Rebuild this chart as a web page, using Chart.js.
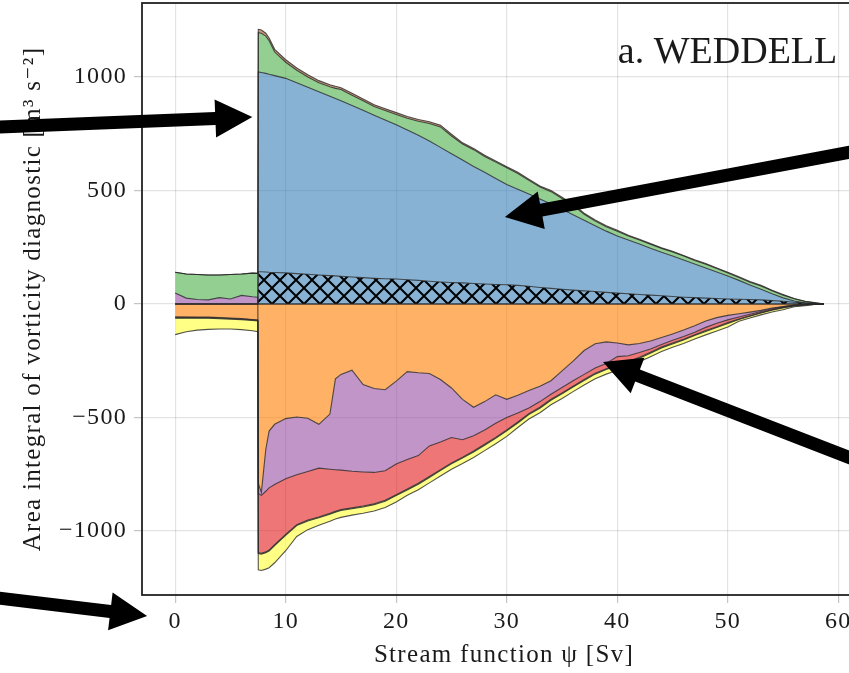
<!DOCTYPE html>
<html lang="en">
<head>
<meta charset="UTF-8" />
<title>Weddell vorticity budget</title>
<script src="https://cdn.jsdelivr.net/npm/chart.js@4.4.0/dist/chart.umd.min.js"></script>
<style>
  html, body { margin: 0; padding: 0; background: #fff; overflow: hidden; }
  #wrap { width: 866px; height: 673px; }
</style>
</head>
<body>
<div id="wrap"><canvas id="budget" width="866" height="673"></canvas></div>
<script>
// stream function [Sv]
const psi = [0,1,2,3,4,5,6,7,7.48,7.52,7.8,8.2,8.5,9,10,11,12,13,14,14.5,15,16,17,18,19,20,21,22,23,24,25,26,27,28,29,30,
  31,32,33,34,35,36,37,38,39,40,41,42,43,44,45,46,47,48,49,50,51,52,53,54,55,56,57,58,58.7];

// stacked terms [m3 s-2]
const hatched = [0,0,0,0,0,0,0,0,0,142,142,141,140,139,137,134,131,128,125,124,122,119,116,113,111,110,107,104,100,97,95,93,90,88,86,85,
  82,78,73,69,65,61,58,55,51,48,45,42,39,36,33,30,28,26,24,22,21,20,18,15,12,8,4,1,0];
const blue = [0,0,0,0,0,0,0,0,0,880,878,875,872,867,857,841,824,807,790,781,773,755,737,719,700,680,660,639,618,593,567,541,516,492,467,441,
  424,407,390,371,352,332,311,290,270,252,237,222,207,192,178,164,148,133,117,101,83,64,47,30,15,5,1,0,0];
const orange = [-56,-57,-58,-58,-60,-62,-64,-68,-70,-790,-830,-640,-560,-530,-505,-498,-503,-530,-485,-330,-310,-292,-355,-372,-378,-340,-298,-303,-306,-333,-370,-420,-455,-430,-400,-420,
  -402,-381,-362,-338,-295,-252,-205,-175,-167,-172,-180,-174,-163,-148,-132,-115,-96,-75,-60,-50,-43,-36,-28,-18,-11,-5,-2,-1,0];
const purple = [48,26,20,18,28,22,38,32,30,-45,-13,-185,-250,-265,-265,-254,-235,-193,-243,-400,-422,-445,-385,-370,-357,-365,-387,-365,-319,-275,-218,-178,-125,-125,-125,-80,
  -78,-77,-68,-60,-73,-86,-105,-107,-95,-60,-48,-40,-35,-30,-28,-28,-28,-28,-25,-20,-14,-9,-5,-3,-1,0,0,0,0];
const red = [-4,-2,-2,-2,-2,-2,-2,-2,-2,-260,-255,-267,-274,-265,-245,-220,-214,-215,-194,-183,-174,-161,-150,-138,-130,-135,-130,-122,-135,-122,-112,-77,-68,-63,-63,-55,
  -40,-25,-25,-22,-24,-24,-23,-23,-23,-36,-27,-21,-15,-12,-12,-12,-11,-14,-15,-12,-9,-7,-5,-4,-3,-2,-1,0,0];
const olive = [-3,-3,-3,-3,-3,-3,-3,-3,-3,-4,-4,-4,-4,-4,-4,-4,-4,-4,-4,-4,-4,-4,-4,-4,-4,-4,-4,-4,-4,-4,-4,-4,-4,-4,-4,-4,
  -4,-4,-4,-4,-4,-4,-4,-4,-4,-4,-4,-4,-4,-4,-4,-4,-4,-4,-4,-4,-2,-2,-2,-2,-2,-2,-2,0,0];
const yellow = [-72,-60,-52,-49,-45,-43,-44,-45,-47,-72,-72,-72,-74,-76,-68,-48,-38,-33,-31,-30,-30,-28,-28,-28,-28,-28,-24,-24,-24,-24,-24,-24,-24,-24,-24,-24,
  -20,-20,-20,-20,-20,-20,-20,-20,-20,-20,-15,-15,-15,-15,-15,-15,-15,-15,-15,-15,-8,-8,-8,-8,-8,-3,-3,0,0];
const green = [92,106,110,110,100,108,94,104,105,173,173,164,148,104,71,55,45,40,42,45,50,46,42,38,41,45,51,62,77,90,78,71,74,70,72,74,
  69,60,52,55,48,42,26,20,19,20,18,18,17,17,18,17,16,16,15,14,13,12,14,13,12,10,6,3,0];
const brown = [0,0,0,0,0,0,0,0,0,15,14,13,12,12,11,10,10,9,9,9,8,8,8,8,8,8,8,8,8,8,8,5,5,5,5,5,
  5,5,5,5,5,5,5,5,5,5,3,3,3,3,3,3,3,3,3,3,3,3,3,3,3,1,1,1,0];

const xTicks = [0, 10, 20, 30, 40, 50, 60];
const yTicks = [-1000, -500, 0, 500, 1000];

const serif = "'Liberation Serif', 'DejaVu Serif', serif";
const edge = 'rgba(40,40,40,0.8)';

// cross hatch for the first term
const pc = document.createElement('canvas');
pc.width = 16; pc.height = 16;
const pctx = pc.getContext('2d');
pctx.fillStyle = 'rgba(55,126,184,0.6)';
pctx.fillRect(0, 0, 16, 16);
pctx.strokeStyle = '#000';
pctx.lineWidth = 2;
pctx.beginPath();
pctx.moveTo(-2, -2); pctx.lineTo(18, 18);
pctx.moveTo(18, -2); pctx.lineTo(-2, 18);
pctx.stroke();
const hatch = document.createElement('canvas').getContext('2d').createPattern(pc, 'repeat');

const layers = [
  { vals: hatched, color: hatch, base: true },
  { vals: blue, color: 'rgba(55,126,184,0.6)' },
  { vals: orange, color: 'rgba(255,127,0,0.6)', base: true },
  { vals: purple, color: 'rgba(152,78,163,0.6)' },
  { vals: red, color: 'rgba(228,26,28,0.6)' },
  { vals: olive, color: 'rgba(120,150,60,0.7)' },
  { vals: yellow, color: 'rgba(255,255,51,0.6)' },
  { vals: green, color: 'rgba(77,175,74,0.6)' },
  { vals: brown, color: 'rgba(166,86,40,0.6)' }
];

// stackplot: positives stack up, negatives stack down
const pos = psi.map(() => 0);
const neg = psi.map(() => 0);
const datasets = [];
layers.forEach(l => {
  let sign = 1;
  const lo = [], hi = [];
  l.vals.forEach((v, i) => {
    if (v !== 0) sign = v > 0 ? 1 : -1;
    const acc = sign > 0 ? pos : neg;
    lo.push({ x: psi[i], y: acc[i] });
    acc[i] += v;
    hi.push({ x: psi[i], y: acc[i] });
  });
  datasets.push({ data: lo, borderColor: l.base ? edge : 'rgba(0,0,0,0)', borderWidth: 1.1, pointRadius: 0, fill: false, tension: 0 });
  datasets.push({ data: hi, borderColor: edge, borderWidth: 1.1, pointRadius: 0, fill: '-1', backgroundColor: l.color, tension: 0 });
});

const arrows = [
  [-16.9, 778, 6.98, 824],
  [63.0, 687, 29.83, 383],
  [63.0, -714, 38.71, -256],
  [-16.9, -1290, -2.54, -1374]
];

function arrow(ctx, x0, y0, x1, y1) {
  const a = Math.atan2(y1 - y0, x1 - x0);
  const len = Math.hypot(x1 - x0, y1 - y0);
  const head = 37, hw = 19, sw = 6.5;
  ctx.save();
  ctx.translate(x0, y0);
  ctx.rotate(a);
  ctx.fillStyle = '#000';
  ctx.beginPath();
  ctx.moveTo(0, -sw);
  ctx.lineTo(len - head, -sw);
  ctx.lineTo(len - head, -hw);
  ctx.lineTo(len, 0);
  ctx.lineTo(len - head, hw);
  ctx.lineTo(len - head, sw);
  ctx.lineTo(0, sw);
  ctx.closePath();
  ctx.fill();
  ctx.restore();
}

const extras = {
  id: 'extras',
  beforeLayout(chart) {
    // the LaTeX serif of the original runs wider than Liberation Serif
    chart.ctx.letterSpacing = '1.3px';
  },
  beforeDraw(chart) {
    chart.ctx.letterSpacing = '1.3px';
  },
  afterDraw(chart) {
    const { ctx, chartArea: ca, scales: { x, y } } = chart;
    ctx.save();
    ctx.strokeStyle = '#222';
    ctx.lineWidth = 1.8;
    ctx.strokeRect(ca.left, ca.top, ca.right - ca.left, ca.bottom - ca.top);
    ctx.letterSpacing = '0px';
    ctx.fillStyle = '#1a1a1a';
    ctx.font = "38px " + serif;
    ctx.textAlign = 'right';
    ctx.textBaseline = 'alphabetic';
    ctx.fillText('a. WEDDELL', x.getPixelForValue(59.9), y.getPixelForValue(1060));
    ctx.restore();
    arrows.forEach(a => arrow(ctx, x.getPixelForValue(a[0]), y.getPixelForValue(a[1]), x.getPixelForValue(a[2]), y.getPixelForValue(a[3])));
  }
};

const gridColor = 'rgba(0,0,0,0.11)';
const fmt = v => String(v).replace('-', '\u2212');

new Chart('budget', {
  type: 'line',
  data: { datasets },
  plugins: [extras],
  options: {
    responsive: false,
    animation: false,
    devicePixelRatio: 1,
    layout: { padding: { top: 3, right: 0, bottom: 0, left: 0 } },
    plugins: {
      legend: { display: false },
      tooltip: { enabled: false },
      filler: { drawTime: 'beforeDatasetsDraw' }
    },
    scales: {
      x: {
        type: 'linear', min: -3, max: 62.5,
        afterBuildTicks: s => { s.ticks = xTicks.map(v => ({ value: v })); },
        afterFit: s => { s.height = 78; s.paddingLeft = 0; s.paddingRight = 0; },
        border: { display: false },
        grid: { color: gridColor, lineWidth: 1.2, tickLength: 8, tickColor: '#c4c4c4' },
        ticks: { font: { family: serif, size: 24 }, color: '#1a1a1a', padding: 4, maxRotation: 0, callback: fmt },
        title: { display: true, text: 'Stream function \u03c8 [Sv]', font: { family: serif, size: 25 }, color: '#1a1a1a', padding: { top: 0, bottom: 3 } }
      },
      y: {
        type: 'linear', min: -1282, max: 1326,
        afterBuildTicks: s => { s.ticks = yTicks.map(v => ({ value: v })); },
        afterFit: s => { s.width = 142; s.paddingTop = 0; s.paddingBottom = 0; },
        border: { display: false },
        grid: { color: gridColor, lineWidth: 1.2, tickLength: 8, tickColor: '#c4c4c4' },
        ticks: { font: { family: serif, size: 24 }, color: '#1a1a1a', padding: 7, callback: fmt },
        title: { display: true, text: 'Area integral of vorticity diagnostic [m\u00b3 s\u207b\u00b2]', font: { family: serif, size: 25 }, color: '#1a1a1a', padding: { top: 18, bottom: 0 } }
      }
    }
  }
});
</script>
</body>
</html>
